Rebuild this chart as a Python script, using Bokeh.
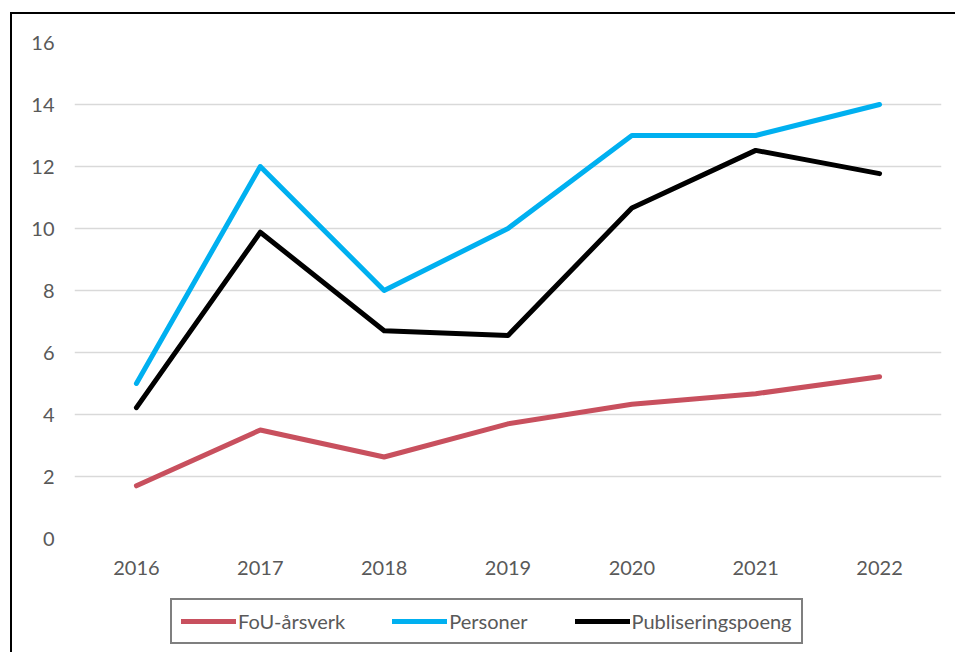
from bokeh.plotting import figure
from bokeh.layouts import column
from bokeh.models import Range1d, FactorRange, Legend, LegendItem
from bokeh.embed import file_html
from bokeh.resources import INLINE

years = ["2016", "2017", "2018", "2019", "2020", "2021", "2022"]
fou_arsverk = [1.7, 3.5, 2.63, 3.7, 4.33, 4.67, 5.22]
personer = [5, 12, 8, 10, 13, 13, 14]
publiseringspoeng = [4.22, 9.88, 6.7, 6.55, 10.66, 12.52, 11.77]
y_ticks = [0, 2, 4, 6, 8, 10, 12, 14, 16]
series = [("FoU-årsverk", fou_arsverk, "#C8505E"),
          ("Personer", personer, "#00B0F0"),
          ("Publiseringspoeng", publiseringspoeng, "#000000")]

FONT = "Lato"
TXT = "#595959"

# main chart
p = figure(width=945, height=576, x_range=FactorRange(*years), y_range=Range1d(0, 16),
           output_backend="svg", toolbar_location=None,
           min_border_left=62, min_border_right=16, min_border_top=28, min_border_bottom=52)
p.styles = {"margin-left": "10px", "margin-top": "12px",
            "border-left": "2px solid black", "border-top": "2px solid black"}
p.outline_line_color = None
p.background_fill_color = "white"
p.border_fill_color = "white"
p.xgrid.grid_line_color = None
p.ygrid.grid_line_color = "#D9D9D9"
p.ygrid.grid_line_width = 1.5
p.yaxis.ticker = y_ticks
for ax in (p.xaxis[0], p.yaxis[0]):
    ax.axis_line_color = None
    ax.major_tick_line_color = None
    ax.minor_tick_line_color = None
    ax.major_tick_out = 0
    ax.major_tick_in = 0
    ax.major_label_text_font = FONT
    ax.major_label_text_font_size = "20px"
    ax.major_label_text_color = TXT
p.yaxis.major_label_standoff = 20
p.xaxis.major_label_standoff = 22

for name, vals, col in series:
    p.line(years, vals, line_color=col, line_width=5, line_cap="round", line_join="round")

# legend strip below the chart
lf = figure(width=945, height=64, x_range=FactorRange(*years), y_range=Range1d(0, 16),
            output_backend="svg", toolbar_location=None, min_border=0)
lf.styles = {"margin-left": "10px", "border-left": "2px solid black"}
lf.axis.visible = False
lf.grid.visible = False
lf.outline_line_color = None
items = []
for name, vals, col in series:
    r = lf.line(years, vals, line_color=col, line_width=5, line_cap="round", visible=False)
    items.append(LegendItem(label=name, renderers=[r]))
legend = Legend(items=items, orientation="horizontal", location=(96, 8),
                glyph_width=55, glyph_height=20, label_standoff=2, spacing=47,
                padding=9, margin=0, inactive_fill_alpha=0,
                label_text_font=FONT, label_text_font_size="20px", label_text_color=TXT,
                border_line_color="black", border_line_width=2, background_fill_alpha=0)
lf.add_layout(legend, "center")

layout = column(p, lf, spacing=0)
open("out.html", "w").write(file_html(layout, INLINE))
